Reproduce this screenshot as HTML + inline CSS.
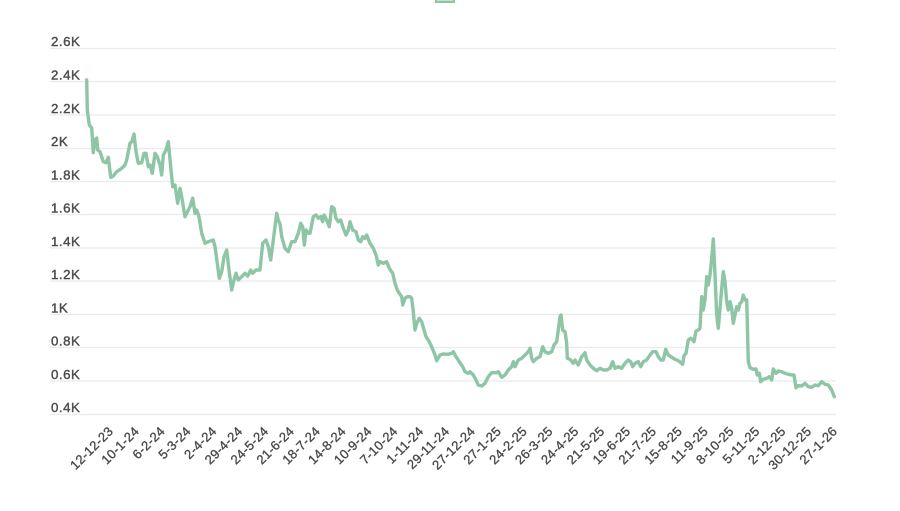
<!DOCTYPE html>
<html>
<head>
<meta charset="utf-8">
<style>
html,body{margin:0;padding:0;background:#fff;}
svg{display:block;}
text{font-family:"Liberation Sans",Arial,sans-serif;}
</style>
</head>
<body>
<svg width="900" height="511" viewBox="0 0 900 511" xmlns="http://www.w3.org/2000/svg">
<rect x="0" y="0" width="900" height="511" fill="#fff"/>
<!-- legend box (cut off at top) -->
<rect x="436" y="-10" width="18" height="12" fill="#c4e3d1" stroke="#8dc5a5" stroke-width="2"/>
<!-- gridlines -->
<g stroke="#ebebeb" stroke-width="1.2">
<line x1="50" y1="48.5" x2="836" y2="48.5"/>
<line x1="50" y1="81.5" x2="836" y2="81.5"/>
<line x1="50" y1="115" x2="836" y2="115"/>
<line x1="50" y1="148.5" x2="836" y2="148.5"/>
<line x1="50" y1="181.5" x2="836" y2="181.5"/>
<line x1="50" y1="214.5" x2="836" y2="214.5"/>
<line x1="50" y1="248" x2="836" y2="248"/>
<line x1="50" y1="281" x2="836" y2="281"/>
<line x1="50" y1="314.5" x2="836" y2="314.5"/>
<line x1="50" y1="347.5" x2="836" y2="347.5"/>
<line x1="50" y1="381" x2="836" y2="381"/>
<line x1="50" y1="414.5" x2="836" y2="414.5"/>
</g>
<!-- y labels -->
<g font-size="13.3" fill="#4a4a4a" stroke="#4a4a4a" stroke-width="0.4" letter-spacing="0.5">
<text x="51" y="46">2.6K</text>
<text x="51" y="79.5">2.4K</text>
<text x="51" y="113">2.2K</text>
<text x="51" y="146">2K</text>
<text x="51" y="179.5">1.8K</text>
<text x="51" y="212.5">1.6K</text>
<text x="51" y="246">1.4K</text>
<text x="51" y="279">1.2K</text>
<text x="51" y="312.5">1K</text>
<text x="51" y="345.5">0.8K</text>
<text x="51" y="379">0.6K</text>
<text x="51" y="412">0.4K</text>
</g>
<!-- x labels -->
<g font-size="13" fill="#4a4a4a" stroke="#4a4a4a" stroke-width="0.35" text-anchor="end" letter-spacing="0.3">
<text transform="translate(114,432) rotate(-45)">12-12-23</text>
<text transform="translate(139.9,432) rotate(-45)">10-1-24</text>
<text transform="translate(165.7,432) rotate(-45)">6-2-24</text>
<text transform="translate(191.6,432) rotate(-45)">5-3-24</text>
<text transform="translate(217.4,432) rotate(-45)">2-4-24</text>
<text transform="translate(243.3,432) rotate(-45)">29-4-24</text>
<text transform="translate(269.2,432) rotate(-45)">24-5-24</text>
<text transform="translate(295,432) rotate(-45)">21-6-24</text>
<text transform="translate(320.9,432) rotate(-45)">18-7-24</text>
<text transform="translate(346.7,432) rotate(-45)">14-8-24</text>
<text transform="translate(372.6,432) rotate(-45)">10-9-24</text>
<text transform="translate(398.5,432) rotate(-45)">7-10-24</text>
<text transform="translate(424.3,432) rotate(-45)">1-11-24</text>
<text transform="translate(450.2,432) rotate(-45)">29-11-24</text>
<text transform="translate(476,432) rotate(-45)">27-12-24</text>
<text transform="translate(501.9,432) rotate(-45)">27-1-25</text>
<text transform="translate(527.8,432) rotate(-45)">24-2-25</text>
<text transform="translate(553.6,432) rotate(-45)">26-3-25</text>
<text transform="translate(579.5,432) rotate(-45)">24-4-25</text>
<text transform="translate(605.3,432) rotate(-45)">21-5-25</text>
<text transform="translate(631.2,432) rotate(-45)">19-6-25</text>
<text transform="translate(657.1,432) rotate(-45)">21-7-25</text>
<text transform="translate(682.9,432) rotate(-45)">15-8-25</text>
<text transform="translate(708.8,432) rotate(-45)">11-9-25</text>
<text transform="translate(734.6,432) rotate(-45)">8-10-25</text>
<text transform="translate(760.5,432) rotate(-45)">5-11-25</text>
<text transform="translate(786.4,432) rotate(-45)">2-12-25</text>
<text transform="translate(812.2,432) rotate(-45)">30-12-25</text>
<text transform="translate(838,432) rotate(-45)">27-1-26</text>
</g>
<!-- series -->
<polyline fill="none" stroke="#8dc5a5" stroke-width="3.4" stroke-linejoin="round" stroke-linecap="round" points="
86.7,80 87.3,110 89.3,125 91.7,128 93.3,152.7 95,140 96.7,138 97.7,150 100,151.7 103.3,161.7 106,162.7 108.3,157.3 110.7,177.3 113.3,176 116.7,171.7 119.3,170 121.7,168.3 125,165 126.7,160 130,143.3 131.7,141.7 134,134 136,151.7 138.3,163.3 141.7,162.7 144,153.3 146,153.3 148.3,166.7 150,165 152.3,173.3 155,153.3 157.3,156.7 160,165 161.7,175 163.3,155 166,150 168.3,141.7 170.7,166.7 172.7,186.7 175,185 177.7,203.3 180,188.3 181.7,196.7 185,216.7 186.7,213.3 190,206.7 192.7,198.3 195,213.3 196.7,210 199,216.7 201.7,233.3 205,243.3 208.3,241.7 213.3,240 215,246.7 217.3,263.3 219.3,278.3 221.7,271.7 224,256.7 226.7,250 229,270 231.7,290 234,280 236,273.3 238.3,280 241.7,276.7 245,273.3 247.7,276 250.7,270 252.7,273.3 256,270 260,270 262.7,243.3 266,240 268.3,246.7 270.7,260 273.3,240 276.7,213.3 278.3,220 280,224 281.7,236.7
285,248.3 288.3,251.7 291.7,241.7 295,241.7 298.3,233.3 300.7,223.3 302.7,226.7 304.3,245 306,230 308.3,233.3 310,233.3 313.3,216.7 316,215 318.3,218.3 320.7,216.7 322.7,221.7 324,215 326.7,220 329.3,226.7 331.7,206.7 334,208.3 336,218.3 338.3,221.7 340.7,220 343.3,228.3 346,235 348.3,230 350,221.7 352.7,230 356,231.7 358.3,240 360.7,241.7 362.7,236.7 365,238.3 366.7,235 370,243.3 373.3,248.3 376,255 378.3,265 380,261.7 383.3,263.3 386.7,261.7 389.3,268.3 392.7,273.3 395,283.3 397.3,290 399.3,293.3 401.7,296.7 402.7,305 405,298.3 407.3,296.7 410,296.7 411.7,298.3 413.3,311.7 415,330 416.7,323.3 419.3,318.3 421.7,321.7 424,330 426,336.7 429.3,341.7 432.7,349.3 435,355 436.7,360.7 440,355 443.3,354 448.3,354.3 451.7,353.3 453.3,351.7 456,356.7 459.3,361.7 462.7,366.7 465,371.7 468.3,373.3
470,371.7 473.3,375 476,380 478.3,385 481.7,386 485,383.3 488.3,376.7 491.7,372.7 496.7,372.7 498.3,371.7 501.7,377.3 505,375 508.3,370 511.7,366.7 513.3,361.7 515,366.7 518.3,360 521.7,358.3 525,355 528.3,351.7 530,348.3 531.7,358.3 533.3,361.7 536.7,358.3 540,356.7 542.7,346.7 545,351.7 548.3,353.3 551.7,351.7 554,345 556.7,341.7 558.3,330 560,316.7 561,315 562.7,330 565,331.7 566.7,343.3 567.3,358.3 570,359.3 573.3,363.3 575,360 578.3,365 581.7,356.7 585,352.7 586.7,360 590,365 593.3,368.3 596.7,370.7 600,368.3 603.3,370 606.7,370 610,368.3 612.7,361.7 615,368.3 618.3,366.7 621.7,368.3 625,363.3 628.3,360 630.7,361.7 632.7,366.7 635,363.3 638.3,361.7 640.7,366.7 643.3,361.7 646.7,360 650,355 652.7,351.7 656,351.7 658.3,356.7 661,360 663.3,360 665.7,349.3 668.3,355 671.7,357.3 675,359.3 678.3,360.7 680,362
682.7,364.3 684,355.7 686,353.3 688.3,340 690.7,338.3 692.7,340 694,341.7 696,331 698.3,330 700,328.3 701.7,296.7 703.3,310 705,300 706.7,276.7 708.3,285 710,275 711.7,258.3 713.3,239 715,275 716.7,315 718.3,328.3 720,308.3 721.7,288.3 723.3,271.7 725,281.7 726.7,301.7 728.3,310 730,301.7 731.7,308.3 733.3,323.3 735,315 736.7,306.7 738.3,310 740,303.3 741.7,301.7 743.3,295 745,300 746.7,300 748.3,361.7 750,367.7 753.3,369.3 756,369 757.3,375 759.3,373.3 760.7,381.7 763.3,379.3 766.7,378.3 769.3,376.7 771.7,380 773.3,369 776,373.3 778.3,371 781.7,371.7 785,373.3 788.3,374.3 791.7,375 794,375 796,387.7 798.3,385.7 801.7,386 805,383.3 808.3,386.7 811.7,387.3 815,385 818.3,385.7 821.7,381.7 825,384.3 828.3,385 831.7,390 834.3,396.7"/>
</svg>
</body>
</html>
